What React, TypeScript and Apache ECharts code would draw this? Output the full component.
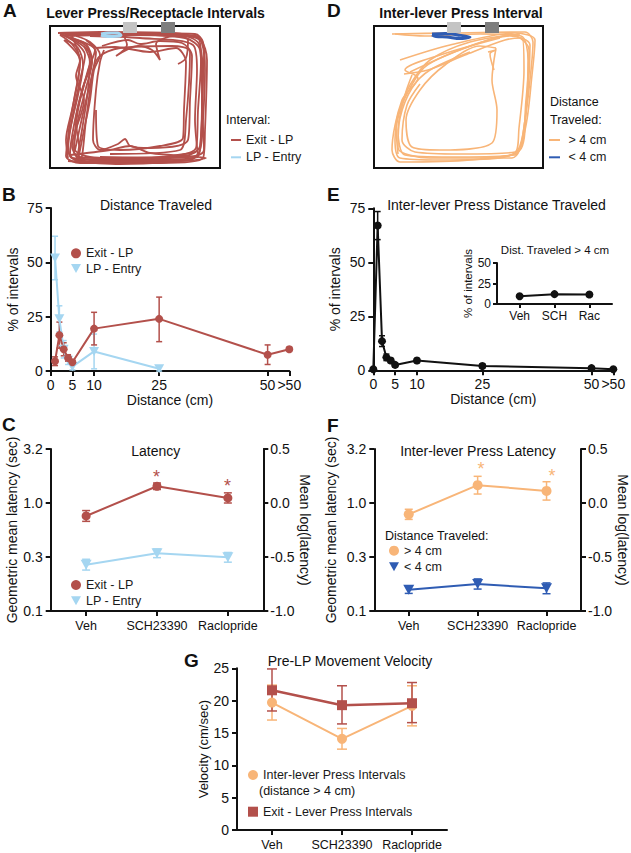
import React, { useEffect, useRef } from "react";
import * as echarts from "echarts";

// ---------------- data ----------------
const distTicks = [0, 5, 10, 25, 50, 55];
const bExitLP = [[1, 4.5], [2, 16.5], [3, 10], [4, 6], [5, 4], [10, 19.5], [25, 24], [50, 7.5], [55, 10]];
const bExitLPErr = [[1, 2.5, 6.5], [2, 10.5, 22.5], [3, 7, 13], [4, 4.5, 7.5], [5, 3, 5], [10, 12, 27], [25, 13.5, 34], [50, 3, 12], [55, 9, 11]];
const bLPEntry = [[1, 52], [2, 24], [3, 10], [4, 5], [5, 2], [10, 9], [25, 1]];
const bLPEntryErr = [[1, 42, 62], [2, 18, 30], [3, 6, 14], [4, 3, 7], [5, 0.5, 3.5], [10, 1, 17], [25, 0, 2]];
const eInterLP = [[0, 0.5], [1, 67], [2, 13.5], [3, 6], [4, 4.5], [5, 2.5], [10, 4.5], [25, 2], [50, 1], [55, 0.5]];
const eInterLPErr = [[1, 60.5, 73.5], [2, 11, 16], [3, 4.5, 7.5], [4, 3.5, 5.5], [5, 1.5, 3.5], [10, 3.5, 5.5], [25, 1, 3], [50, 0.2, 1.8]];
const insetCats = ["Veh", "SCH", "Rac"];
const insetVals = [9.5, 12, 11.5];
const drugCats = ["Veh", "SCH23390", "Raclopride"];
const cExitLP = [-0.12, 0.155, 0.047];
const cExitLPSem = [0.05, 0.03, 0.047];
const cLPEntry = [-0.571, -0.466, -0.503];
const cLPEntrySem = [0.05, 0.04, 0.045];
const fLong = [-0.105, 0.165, 0.112];
const fLongSem = [0.047, 0.082, 0.085];
const fShort = [-0.803, -0.75, -0.79];
const fShortSem = [0.034, 0.047, 0.05];
const gInterLP = [19.7, 14.1, 19.2];
const gInterLPErr = [[17, 22.4], [12.5, 15.7], [16.1, 22.3]];
const gExitLP = [21.6, 19.3, 19.6];
const gExitLPErr = [[18.4, 24.9], [16.4, 22.3], [16.6, 22.8]];
const logLeftLabels: Record<string, string> = { "-1": "0.1", "-0.5": "0.3", "0": "1.0", "0.5": "3.2" };

// trajectories (arena coordinates, px-like units)
const aExitLoops = [
  [[60, 34], [120, 33], [195, 34], [203, 42], [205, 70], [203, 120], [200, 150], [190, 160], [120, 162], [75, 160], [68, 150], [72, 120], [80, 80], [85, 55], [75, 42], [60, 34]],
  [[65, 35], [150, 35], [198, 38], [201, 60], [198, 110], [196, 148], [150, 158], [90, 160], [74, 152], [78, 110], [88, 70], [95, 50], [70, 38]],
  [[102, 46], [128, 40], [140, 44], [160, 41], [182, 43], [192, 56], [190, 100], [188, 140], [150, 148], [130, 146], [125, 139], [118, 144], [100, 150], [93, 140], [96, 90], [100, 62], [104, 50]],
  [[58, 33], [100, 32], [170, 33], [200, 40], [207, 60], [205, 130], [203, 158], [160, 163], [80, 163], [66, 156], [70, 130], [78, 95], [83, 65], [78, 48], [65, 40]],
  [[72, 36], [80, 62], [74, 100], [68, 140], [72, 158], [130, 160], [198, 157], [195, 120], [197, 70], [193, 45], [140, 38], [90, 36]],
  [[124, 36], [127, 45], [116, 56], [138, 46], [152, 50], [160, 60], [156, 44], [175, 36], [188, 40], [186, 58], [178, 64]],
  [[70, 155], [110, 150], [130, 146], [150, 153], [206, 158], [120, 164], [68, 161]],
  [[64, 40], [80, 60], [76, 76], [84, 100], [72, 146], [80, 161], [86, 120], [92, 76], [96, 52], [86, 40]],
  [[62, 34], [90, 55], [88, 90], [82, 130], [78, 155], [95, 158], [185, 156], [200, 146], [202, 95], [200, 50], [185, 38], [110, 34]],
  [[70, 38], [86, 46], [92, 62], [86, 88], [78, 120], [74, 148], [90, 157], [140, 159], [196, 152]],
  [[75, 150], [82, 118], [90, 84], [98, 58], [120, 48], [172, 46], [190, 52], [186, 120], [180, 150], [110, 154]],
  [[66, 36], [110, 34], [180, 35], [199, 44], [203, 80], [201, 135], [198, 156], [140, 161], [82, 162], [70, 154], [74, 125], [82, 90], [90, 62], [84, 46]],
  [[80, 150], [76, 120], [84, 85], [92, 60], [86, 44], [70, 37], [130, 35], [196, 36], [204, 55], [202, 100], [204, 150], [170, 158], [100, 157]],
  [[68, 158], [66, 140], [72, 110], [78, 80], [80, 60], [72, 44], [60, 35]],
  [[96, 48], [115, 47], [150, 52], [176, 48], [186, 62], [184, 110], [183, 138], [160, 146], [120, 150], [98, 146], [96, 110]],
  [[78, 160], [84, 130], [90, 100], [94, 70], [100, 55], [90, 42], [76, 36]],
];
const aEntryLoops = [
  [[101, 34], [108, 33], [118, 33], [121, 35.5], [112, 36.5], [104, 36], [101, 35]],
];
const dLongLoops = [
  [[392, 34], [450, 33], [525, 32], [533, 42], [530, 80], [525, 120], [518, 150], [500, 158], [440, 160], [400, 158], [395, 140], [400, 110], [410, 85], [430, 60], [470, 42], [520, 34]],
  [[410, 72], [460, 50], [510, 36], [530, 45], [528, 90], [522, 140], [515, 155], [450, 157], [405, 155], [398, 130], [405, 95], [412, 75]],
  [[496, 48], [492, 80], [497, 110], [492, 143], [440, 150], [412, 147], [406, 120], [420, 90], [445, 65], [480, 46], [496, 48]],
  [[395, 34], [425, 36], [480, 34], [521, 36], [528, 60], [526, 110], [520, 150], [470, 160], [400, 162], [392, 150], [402, 100], [418, 78], [405, 70], [440, 55], [500, 38]],
  [[400, 60], [450, 45], [515, 33], [535, 40], [532, 75], [525, 130], [512, 158], [430, 158], [398, 148], [400, 118], [412, 88], [430, 70], [470, 52]],
  [[404, 74], [428, 70], [465, 55], [505, 40], [522, 38], [524, 70], [519, 128], [515, 152], [460, 154], [415, 152], [402, 140], [407, 105], [420, 84]],
  [[488, 52], [496, 50], [490, 54], [494, 70]],
  [[398, 154], [396, 125], [408, 92], [426, 66], [470, 46], [512, 35], [529, 50], [526, 100], [518, 152], [480, 158]],
];
const dShortLoops = [
  [[432, 34], [445, 33.5], [458, 35], [470, 37], [460, 38.5], [447, 37], [436, 36.5], [432, 35]],
];

// ---------------- styling ----------------
const FONT = "'Liberation Sans', Arial, sans-serif";
const RED = "#b3504b";
const LBLUE = "#a5d6f1";
const ORANGE = "#f8b578";
const DBLUE = "#2f5cb3";
const BLACK = "#111";
const TRI = "path://M0,0L10,0L5,9Z";

const axLine = { show: true, onZero: false, lineStyle: { color: BLACK, width: 2 } };
const axTick = { show: true, length: 5, lineStyle: { color: BLACK, width: 2 } };
const lbl = (size = 14) => ({ color: BLACK, fontSize: size, fontFamily: FONT });

function errSeries(name: string, xi: number, yi: number, data: number[][], color: string, cap: number, width = 1.5) {
  return {
    type: "custom",
    name,
    xAxisIndex: xi,
    yAxisIndex: yi,
    data,
    silent: true,
    z: 1,
    encode: { x: 0, y: [1, 2] },
    renderItem: (_p: any, api: any) => {
      const x = api.value(0), lo = api.value(1), hi = api.value(2);
      const a = api.coord([x, lo]);
      const b = api.coord([x, hi]);
      const st = { stroke: color, lineWidth: width };
      return {
        type: "group",
        children: [
          { type: "line", shape: { x1: a[0], y1: a[1], x2: b[0], y2: b[1] }, style: st },
          { type: "line", shape: { x1: a[0] - cap, y1: a[1], x2: a[0] + cap, y2: a[1] }, style: st },
          { type: "line", shape: { x1: b[0] - cap, y1: b[1], x2: b[0] + cap, y2: b[1] }, style: st },
        ],
      };
    },
  };
}

function trajSeries(name: string, loops: number[][][], idx: number, color: string, width: number) {
  return loops.map((loop) => ({
    type: "line",
    name,
    xAxisIndex: idx,
    yAxisIndex: idx,
    data: loop,
    symbol: "none",
    smooth: 0.3,
    silent: true,
    z: 2,
    lineStyle: { color, width },
    itemStyle: { color },
  }));
}

function leg(name: string, icon: string, color: string, iconLeft: number, cy: number, w: number, h: number, extra: any = {}) {
  return {
    data: [{ name, icon, itemStyle: { color, borderWidth: 0 } }],
    left: iconLeft,
    top: cy - 8,
    padding: 0,
    itemGap: 0,
    itemWidth: w,
    itemHeight: h,
    selectedMode: false,
    textStyle: { fontFamily: FONT, fontSize: 12.5, lineHeight: 16, color: "#1a1a1a" },
    ...extra,
  };
}

function txt(text: string, x: number, y: number, size: number, opts: any = {}) {
  return {
    type: "text",
    x,
    y,
    z: 20,
    style: {
      text,
      fill: opts.fill || BLACK,
      fontSize: size,
      fontFamily: FONT,
      fontWeight: opts.bold ? "bold" : "normal",
      align: opts.align || "center",
      verticalAlign: "middle",
    },
  };
}

export default function App() {
  const ref = useRef<HTMLDivElement>(null);
  useEffect(() => {
    document.body.style.margin = "0";
    const chart = echarts.init(ref.current!, null, { renderer: "svg" });

    const hiddenX = (i: number, min: number, max: number) => ({ type: "value", gridIndex: i, min, max, show: false });
    const hiddenY = (i: number, min: number, max: number) => ({ type: "value", gridIndex: i, min, max, inverse: true, show: false });

    const distX = (i: number) => ({
      type: "value",
      gridIndex: i,
      min: 0,
      max: 55,
      name: "Distance (cm)",
      nameLocation: "middle",
      nameGap: 21,
      nameTextStyle: lbl(14),
      axisLine: axLine,
      axisTick: { ...axTick, customValues: distTicks },
      axisLabel: { ...lbl(14), margin: 7, customValues: distTicks, formatter: (v: number) => (v === 55 ? ">50" : String(v)) },
      splitLine: { show: false },
    });
    const pctY = (i: number, gap: number) => ({
      type: "value",
      gridIndex: i,
      min: 0,
      max: 75,
      interval: 25,
      name: "% of intervals",
      nameLocation: "middle",
      nameGap: gap,
      nameTextStyle: lbl(14),
      axisLine: axLine,
      axisTick: axTick,
      axisLabel: { ...lbl(14), margin: 8 },
      splitLine: { show: false },
    });
    const catX = (i: number, data: string[]) => ({
      type: "category",
      gridIndex: i,
      data,
      axisLine: axLine,
      axisTick: { ...axTick, alignWithLabel: true, interval: 0 },
      axisLabel: { ...lbl(12.5), margin: 8, interval: 0 },
      splitLine: { show: false },
    });
    const logLeftY = (i: number, gap: number) => ({
      type: "value",
      gridIndex: i,
      min: -1,
      max: 0.5,
      interval: 0.5,
      name: "Geometric mean latency (sec)",
      nameLocation: "middle",
      nameGap: gap,
      nameTextStyle: lbl(14),
      axisLine: axLine,
      axisTick: axTick,
      axisLabel: { ...lbl(14), margin: 8, formatter: (v: number) => logLeftLabels[String(v)] ?? "" },
      splitLine: { show: false },
    });
    const logRightY = (i: number, gap: number) => ({
      type: "value",
      gridIndex: i,
      position: "right",
      min: -1,
      max: 0.5,
      interval: 0.5,
      name: "Mean log(latency)",
      nameLocation: "middle",
      nameRotate: -90,
      nameGap: gap,
      nameTextStyle: lbl(14),
      axisLine: axLine,
      axisTick: axTick,
      axisLabel: { ...lbl(14), margin: 7, formatter: (v: number) => v.toFixed(1) },
      splitLine: { show: false },
    });

    const option: any = {
      animation: false,
      backgroundColor: "#fff",
      grid: [
        { left: 50, top: 26, width: 170, height: 142, show: true, borderColor: BLACK, borderWidth: 2, backgroundColor: "transparent" },
        { left: 374, top: 26, width: 169, height: 142, show: true, borderColor: BLACK, borderWidth: 2, backgroundColor: "transparent" },
        { left: 50.7, top: 208, width: 238.6, height: 163 },
        { left: 373.3, top: 208.3, width: 240, height: 162 },
        { left: 497, top: 263, width: 115, height: 41 },
        { left: 50.7, top: 449, width: 212.6, height: 162 },
        { left: 374.3, top: 449, width: 213.4, height: 162 },
        { left: 237, top: 668.3, width: 210, height: 161.7 },
      ],
      xAxis: [
        hiddenX(0, 50, 220),
        hiddenX(1, 374, 543),
        distX(2),
        distX(3),
        {
          type: "value",
          gridIndex: 4,
          min: -0.65,
          max: 2.65,
          axisLine: axLine,
          axisTick: { ...axTick, length: 4, customValues: [0, 1, 2] },
          axisLabel: { ...lbl(12), margin: 6, customValues: [0, 1, 2], formatter: (v: number) => insetCats[v] ?? "" },
          splitLine: { show: false },
        },
        catX(5, drugCats),
        catX(6, drugCats),
        catX(7, drugCats),
      ],
      yAxis: [
        hiddenY(0, 26, 168),
        hiddenY(1, 26, 168),
        pctY(2, 31),
        pctY(3, 31),
        {
          type: "value",
          gridIndex: 4,
          min: 0,
          max: 50,
          interval: 25,
          name: "% of intervals",
          nameLocation: "middle",
          nameGap: 20,
          nameTextStyle: lbl(11.5),
          axisLine: axLine,
          axisTick: { ...axTick, length: 4 },
          axisLabel: { ...lbl(12), margin: 6 },
          splitLine: { show: false },
        },
        logLeftY(5, 32),
        logRightY(5, 31),
        logLeftY(6, 36),
        logRightY(6, 29),
        {
          type: "value",
          gridIndex: 7,
          min: 0,
          max: 25,
          interval: 5,
          name: "Velocity (cm/sec)",
          nameLocation: "middle",
          nameGap: 27,
          nameTextStyle: lbl(13),
          axisLine: axLine,
          axisTick: axTick,
          axisLabel: { ...lbl(14), margin: 8 },
          splitLine: { show: false },
        },
      ],
      legend: [
        leg("Exit - LP", "rect", RED, 231, 140, 10, 2),
        leg("LP - Entry", "rect", LBLUE, 231, 157.3, 10, 2),
        leg("> 4 cm", "rect", ORANGE, 549, 140, 11, 2, { formatter: (n: string) => " " + n }),
        leg("< 4 cm", "rect", DBLUE, 549, 157.3, 11, 2, { formatter: (n: string) => " " + n }),
        leg("Exit - LP", "circle", RED, 71, 253.3, 10, 10),
        leg("LP - Entry", TRI, LBLUE, 71, 268.5, 10, 9),
        leg("Exit - LP", "circle", RED, 71, 585, 10, 10),
        leg("LP - Entry", TRI, LBLUE, 71, 600.7, 10, 9),
        leg("> 4 cm", "circle", ORANGE, 389, 550.7, 10, 10),
        leg("< 4 cm", TRI, DBLUE, 389, 566.7, 10, 9),
        leg("Inter-lever Press Intervals", "circle", ORANGE, 248, 775, 10, 10),
        leg("Exit - Lever Press Intervals", "rect", RED, 248, 811.7, 10, 10),
      ],
      graphic: [
        // panel letters
        txt("A", 3, 10.5, 19, { bold: true, align: "left" }),
        txt("D", 327, 10.5, 19, { bold: true, align: "left" }),
        txt("B", 2, 194.5, 19, { bold: true, align: "left" }),
        txt("E", 327, 194.5, 19, { bold: true, align: "left" }),
        txt("C", 2, 424.5, 19, { bold: true, align: "left" }),
        txt("F", 327, 425, 19, { bold: true, align: "left" }),
        txt("G", 184, 660.5, 19, { bold: true, align: "left" }),
        // titles
        txt("Lever Press/Receptacle Intervals", 155.5, 13, 14, { bold: true }),
        txt("Inter-lever Press Interval", 461, 13, 14, { bold: true }),
        txt("Distance Traveled", 156, 205, 14),
        txt("Inter-lever Press Distance Traveled", 496.5, 205, 14),
        txt("Dist. Traveled > 4 cm", 555, 250, 11.5),
        txt("Latency", 155.7, 451, 14),
        txt("Inter-lever Press Latency", 478, 451, 14),
        txt("Pre-LP Movement Velocity", 350, 661, 14),
        // legend headings
        txt("Interval:", 226, 119.5, 12.5, { align: "left" }),
        txt("Distance", 550, 102, 12.5, { align: "left" }),
        txt("Traveled:", 550, 120, 12.5, { align: "left" }),
        txt("Distance Traveled:", 385, 536, 12.5, { align: "left" }),
        txt("(distance > 4 cm)", 259, 791, 12.5, { align: "left" }),
        // significance markers
        txt("*", 156.5, 477, 18, { fill: RED }),
        txt("*", 227.5, 485.7, 18, { fill: RED }),
        txt("*", 481, 469, 18, { fill: ORANGE }),
        txt("*", 552, 476.3, 18, { fill: ORANGE }),
        // levers
        { type: "rect", z: 30, shape: { x: 123, y: 22, width: 14, height: 11 }, style: { fill: "#c4c4c4" } },
        { type: "rect", z: 30, shape: { x: 161, y: 22, width: 14, height: 11 }, style: { fill: "#7e7e7e" } },
        { type: "rect", z: 30, shape: { x: 447, y: 22, width: 14, height: 11 }, style: { fill: "#c4c4c4" } },
        { type: "rect", z: 30, shape: { x: 485, y: 22, width: 14, height: 11 }, style: { fill: "#7e7e7e" } },
      ],
      series: [
        ...trajSeries("Exit - LP", aExitLoops, 0, RED, 1.8),
        ...trajSeries("LP - Entry", aEntryLoops, 0, LBLUE, 3),
        ...trajSeries("> 4 cm", dLongLoops, 1, ORANGE, 1.6),
        ...trajSeries("< 4 cm", dShortLoops, 1, DBLUE, 3),
        // B
        errSeries("errB2", 2, 2, bLPEntryErr, LBLUE, 3),
        { type: "line", name: "LP - Entry", xAxisIndex: 2, yAxisIndex: 2, data: bLPEntry, symbol: TRI, symbolSize: [10, 9], z: 3, lineStyle: { color: LBLUE, width: 2 }, itemStyle: { color: LBLUE } },
        errSeries("errB1", 2, 2, bExitLPErr, RED, 3),
        { type: "line", name: "Exit - LP", xAxisIndex: 2, yAxisIndex: 2, data: bExitLP, symbol: "circle", symbolSize: 8, z: 3, lineStyle: { color: RED, width: 2 }, itemStyle: { color: RED } },
        // E
        errSeries("errE", 3, 3, eInterLPErr, BLACK, 3),
        { type: "line", name: "Inter-lever", xAxisIndex: 3, yAxisIndex: 3, data: eInterLP, symbol: "circle", symbolSize: 8, z: 3, lineStyle: { color: BLACK, width: 2 }, itemStyle: { color: BLACK } },
        { type: "line", name: "Inset", xAxisIndex: 4, yAxisIndex: 4, data: insetVals.map((v, i) => [i, v]), symbol: "circle", symbolSize: 8, z: 3, lineStyle: { color: BLACK, width: 2 }, itemStyle: { color: BLACK } },
        // C
        errSeries("errC2", 5, 5, cLPEntry.map((v, i) => [i, v - cLPEntrySem[i], v + cLPEntrySem[i]]), LBLUE, 4),
        { type: "line", name: "LP - Entry", xAxisIndex: 5, yAxisIndex: 5, data: cLPEntry, symbol: TRI, symbolSize: [11, 10], z: 3, lineStyle: { color: LBLUE, width: 2 }, itemStyle: { color: LBLUE } },
        errSeries("errC1", 5, 5, cExitLP.map((v, i) => [i, v - cExitLPSem[i], v + cExitLPSem[i]]), RED, 4),
        { type: "line", name: "Exit - LP", xAxisIndex: 5, yAxisIndex: 5, data: cExitLP, symbol: "circle", symbolSize: 9, z: 3, lineStyle: { color: RED, width: 2 }, itemStyle: { color: RED } },
        // F
        errSeries("errF1", 6, 7, fLong.map((v, i) => [i, v - fLongSem[i], v + fLongSem[i]]), ORANGE, 4),
        { type: "line", name: "> 4 cm", xAxisIndex: 6, yAxisIndex: 7, data: fLong, symbol: "circle", symbolSize: 10, z: 3, lineStyle: { color: ORANGE, width: 2 }, itemStyle: { color: ORANGE } },
        errSeries("errF2", 6, 7, fShort.map((v, i) => [i, v - fShortSem[i], v + fShortSem[i]]), DBLUE, 4),
        { type: "line", name: "< 4 cm", xAxisIndex: 6, yAxisIndex: 7, data: fShort, symbol: TRI, symbolSize: [11, 10], z: 3, lineStyle: { color: DBLUE, width: 2 }, itemStyle: { color: DBLUE } },
        // G
        errSeries("errG1", 7, 9, gInterLPErr.map((e, i) => [i, e[0], e[1]]), ORANGE, 5),
        { type: "line", name: "Inter-lever Press Intervals", xAxisIndex: 7, yAxisIndex: 9, data: gInterLP, symbol: "circle", symbolSize: 10, z: 3, lineStyle: { color: ORANGE, width: 2 }, itemStyle: { color: ORANGE } },
        errSeries("errG2", 7, 9, gExitLPErr.map((e, i) => [i, e[0], e[1]]), RED, 5),
        { type: "line", name: "Exit - Lever Press Intervals", xAxisIndex: 7, yAxisIndex: 9, data: gExitLP, symbol: "rect", symbolSize: 10, z: 3, lineStyle: { color: RED, width: 2.5 }, itemStyle: { color: RED } },
      ],
    };
    chart.setOption(option);
    return () => chart.dispose();
  }, []);
  return <div ref={ref} style={{ width: 631, height: 853 }} />;
}
